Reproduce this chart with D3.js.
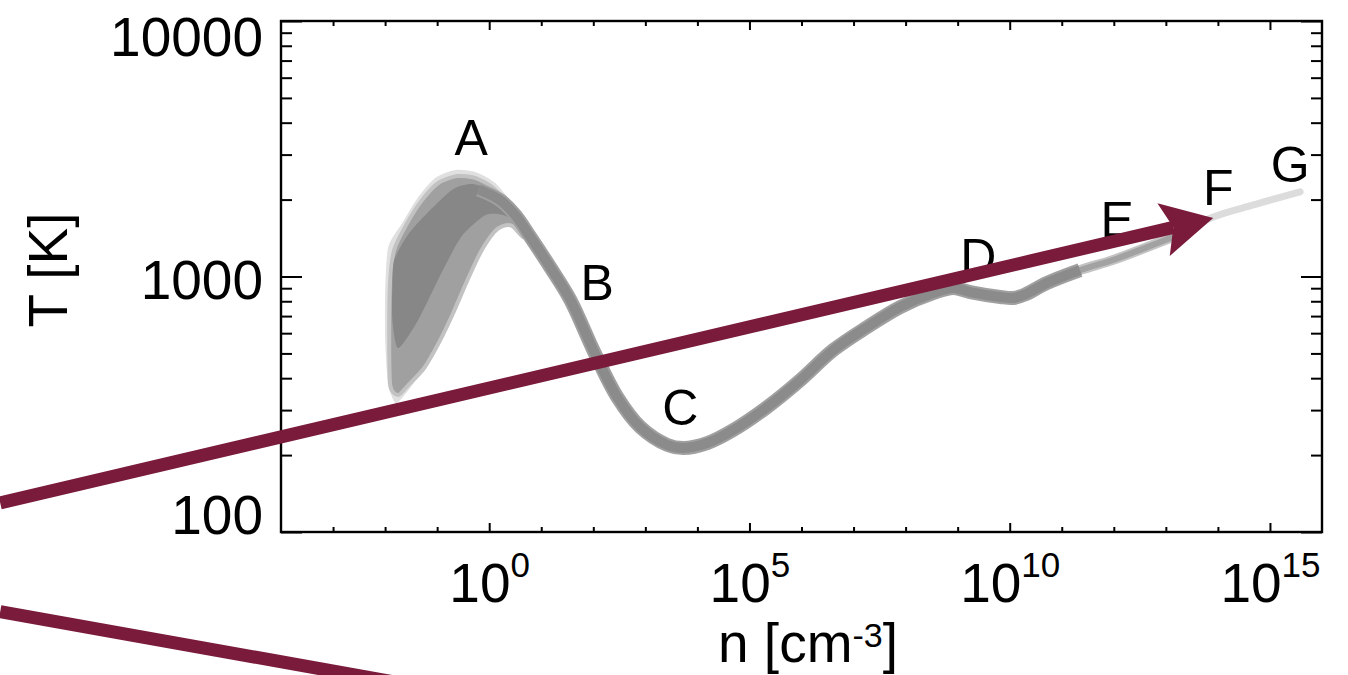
<!DOCTYPE html>
<html>
<head>
<meta charset="utf-8">
<script src="https://cdn.jsdelivr.net/npm/d3@7"></script>
<style>
body { margin: 0; background: #fff; }
svg { display: block; }
text { font-family: "Liberation Sans", Arial, Helvetica, sans-serif; fill: #000; }
</style>
</head>
<body>
<svg width="1348" height="675"></svg>
<script>
// values are log10(n [cm^-3]) and log10(T [K])

// main track (dark grey)
var mainLogN = [-0.20, 0.20, 0.50, 0.79, 1.17, 1.56, 2.00, 2.46, 2.90, 3.42, 3.73, 4.19, 4.69, 5.34, 5.98, 6.61, 7.26, 7.90, 8.53, 8.92, 9.24, 9.82, 10.07, 10.30, 10.72, 11.35];
var mainLogT = [3.340, 3.300, 3.241, 3.155, 3.037, 2.908, 2.712, 2.528, 2.411, 2.341, 2.329, 2.348, 2.399, 2.489, 2.595, 2.712, 2.802, 2.881, 2.935, 2.955, 2.939, 2.920, 2.916, 2.930, 2.975, 3.025];

// E region (medium grey)
var midLogN = [10.72, 11.35, 11.99, 12.64, 13.14];
var midLogT = [2.975, 3.025, 3.065, 3.115, 3.155];

// F-G tail (light grey)
var tailLogN = [13.14, 13.91, 14.68, 15.58];
var tailLogT = [3.155, 3.233, 3.280, 3.331];

// spread of tracks around A (outer / middle / core envelopes)
var fanOuter = [[-1.806, 2.505], [-1.940, 2.575], [-1.998, 2.751], [-1.998, 2.947], [-1.940, 3.115], [-1.671, 3.209],
  [-1.364, 3.311], [-1.037, 3.386], [-0.653, 3.417], [-0.269, 3.409], [0.115, 3.366], [0.500, 3.272], [0.826, 3.170],
  [0.860, 3.150], [0.710, 3.150], [0.500, 3.205], [0.307, 3.213], [0.115, 3.194], [-0.134, 3.115], [-0.403, 2.998],
  [-0.653, 2.881], [-0.903, 2.763], [-1.230, 2.646], [-1.518, 2.564], [-1.710, 2.517]];
var fanMid = [[-1.902, 2.575], [-1.921, 2.791], [-1.902, 2.986], [-1.825, 3.104], [-1.595, 3.202], [-1.306, 3.295],
  [-0.980, 3.366], [-0.615, 3.393], [-0.269, 3.386], [0.077, 3.346], [0.442, 3.260], [0.750, 3.165], [0.650, 3.155],
  [0.442, 3.198], [0.269, 3.198], [0.096, 3.174], [-0.173, 3.092], [-0.442, 2.975], [-0.692, 2.857], [-0.941, 2.751],
  [-1.249, 2.642], [-1.556, 2.575], [-1.748, 2.536]];
var fanCore = [[-1.825, 3.065], [-1.556, 3.165], [-1.230, 3.240], [-0.711, 3.340], [-0.327, 3.362], [0.115, 3.330],
  [0.500, 3.250], [0.560, 3.215], [0.250, 3.242], [-0.077, 3.240], [-0.519, 3.160], [-0.903, 3.020], [-1.364, 2.830],
  [-1.748, 2.720], [-1.860, 2.830], [-1.860, 2.967]];

// phase labels
var labelText = ['A', 'B', 'C', 'D', 'E', 'F', 'G'];
var labelLogN = [-0.346, 2.075, 3.670, 9.395, 12.065, 14.006, 15.389];
var labelLogT = [3.476, 2.908, 2.419, 3.010, 3.155, 3.280, 3.370];

// overlay arrows [logN, logT]
var arrowUpper = [[-9.395, 2.114], [13.910, 3.229]];
var arrowLower = [[-9.395, 1.688], [-0.749, 1.374]];

// ticks
var yMajor = [100, 1000, 10000];
var yMinor = [200, 300, 400, 500, 600, 700, 800, 900, 2000, 3000, 4000, 5000, 6000, 7000, 8000, 9000];
var xMajorExp = [0, 5, 10, 15];
var xMinorExp = [-3, -2, -1, 1, 2, 3, 4, 6, 7, 8, 9, 11, 12, 13, 14];

var svg = d3.select('svg');
var plotL = 281, plotR = 1322, plotT = 21, plotB = 532;

var x = d3.scaleLog().domain([1e-4, 1e16]).range([plotL, plotR]);
var y = d3.scaleLog().domain([100, 10000]).range([plotB, plotT]);

var px = function(d) { return x(Math.pow(10, d[0])); };
var py = function(d) { return y(Math.pow(10, d[1])); };

var zip = function(a, b) { return a.map(function(v, i) { return [v, b[i]]; }); };

// ---- fan of tracks
var blobLine = d3.line().x(px).y(py).curve(d3.curveCardinalClosed.tension(0.3));
var g = svg.append('g');
g.append('path').attr('d', blobLine(fanOuter)).attr('fill', '#e0e0e0');
g.append('path').attr('d', blobLine(fanMid)).attr('fill', '#a0a0a0')
  .attr('stroke', '#c2c2c2').attr('stroke-width', 4).attr('stroke-linejoin', 'round');
g.append('path').attr('d', blobLine(fanCore)).attr('fill', '#878787');

// ---- main track
var trackLine = d3.line().x(px).y(py).curve(d3.curveCatmullRom);
g.append('path').attr('d', trackLine(zip(tailLogN, tailLogT)))
  .attr('fill', 'none').attr('stroke', '#dcdcdc').attr('stroke-width', 7).attr('stroke-linecap', 'round');
g.append('path').attr('d', trackLine(zip(midLogN, midLogT)))
  .attr('fill', 'none').attr('stroke', '#c4c4c4').attr('stroke-width', 10).attr('stroke-linecap', 'round');
g.append('path').attr('d', trackLine(zip(midLogN, midLogT)))
  .attr('fill', 'none').attr('stroke', '#a2a2a2').attr('stroke-width', 6).attr('stroke-linecap', 'round');
g.append('path').attr('d', trackLine(zip(mainLogN, mainLogT)))
  .attr('fill', 'none').attr('stroke', '#a0a0a0').attr('stroke-width', 14).attr('stroke-linecap', 'butt');
g.append('path').attr('d', trackLine(zip(mainLogN, mainLogT)))
  .attr('fill', 'none').attr('stroke', '#8b8b8b').attr('stroke-width', 10).attr('stroke-linecap', 'butt');

// ---- axes
var axes = svg.append('g').attr('class', 'axes');

function addAxis(axis, tx, ty) {
  var a = axes.append('g').attr('transform', 'translate(' + tx + ',' + ty + ')').call(axis);
  a.select('.domain').remove();
  a.selectAll('line').attr('stroke', '#000').attr('stroke-width', 2);
  return a;
}

var pow10 = function(e) { return Math.pow(10, e); };

addAxis(d3.axisLeft(y).tickValues(yMinor).tickSize(-11).tickFormat(''), plotL, 0);
addAxis(d3.axisRight(y).tickValues(yMinor).tickSize(-11).tickFormat(''), plotR, 0);
addAxis(d3.axisRight(y).tickValues(yMajor).tickSize(-21).tickFormat(''), plotR, 0);
var yAx = addAxis(d3.axisLeft(y).tickValues(yMajor).tickSize(-21).tickPadding(18).tickFormat(d3.format('d')), plotL, 0);
var yShift = {100: 1, 1000: 22, 10000: 34};
yAx.selectAll('text')
  .attr('dy', null)
  .attr('y', function(d) { return yShift[d]; })
  .attr('fill', '#000')
  .style('font-size', '55px')
  .style('font-family', '"Liberation Sans", Arial, Helvetica, sans-serif');

addAxis(d3.axisBottom(x).tickValues(xMinorExp.map(pow10)).tickSize(-5).tickFormat(''), 0, plotB);
addAxis(d3.axisTop(x).tickValues(xMinorExp.map(pow10)).tickSize(-5).tickFormat(''), 0, plotT);
addAxis(d3.axisTop(x).tickValues(xMajorExp.map(pow10)).tickSize(-9).tickFormat(''), 0, plotT);
var xAx = addAxis(d3.axisBottom(x).tickValues(xMajorExp.map(pow10)).tickSize(-9).tickFormat(''), 0, plotB);
xAx.selectAll('.tick text').remove();
xAx.selectAll('.tick').append('text')
  .attr('y', 70)
  .attr('text-anchor', 'middle')
  .style('font-size', '55px')
  .each(function(d) {
    var t = d3.select(this);
    t.append('tspan').text('10');
    t.append('tspan').attr('dy', -25).style('font-size', '35px').text(Math.round(Math.log10(d)));
  });

// frame
axes.append('rect')
  .attr('x', plotL).attr('y', plotT)
  .attr('width', plotR - plotL).attr('height', plotB - plotT)
  .attr('fill', 'none').attr('stroke', '#000').attr('stroke-width', 2.4);

// axis titles
var xt = svg.append('text')
  .attr('x', 808).attr('y', 662)
  .attr('text-anchor', 'middle')
  .style('font-size', '55px');
xt.append('tspan').text('n [cm');
xt.append('tspan').attr('dy', -15).style('font-size', '34px').text('-3');
xt.append('tspan').attr('dy', 15).text(']');

svg.append('text')
  .attr('transform', 'translate(67,270) rotate(-90)')
  .attr('text-anchor', 'middle')
  .style('font-size', '55px')
  .text('T [K]');

// ---- phase labels
svg.append('g').selectAll('text')
  .data(zip(labelLogN, labelLogT))
  .enter().append('text')
  .attr('x', px).attr('y', py)
  .attr('text-anchor', 'middle')
  .style('font-size', '50px')
  .text(function(d, i) { return labelText[i]; });

// ---- arrows on top
var maroon = '#7a1b3b';
function drawArrow(pts, head) {
  var x0 = px(pts[0]), y0 = py(pts[0]), x1 = px(pts[1]), y1 = py(pts[1]);
  var ang = Math.atan2(y1 - y0, x1 - x0);
  var c = Math.cos(ang), s = Math.sin(ang);
  var at = function(u, v) { return [x1 + u * c - v * s, y1 + u * s + v * c]; };
  var end = head ? at(-41, 0) : [x1, y1];
  svg.append('line')
    .attr('x1', x0).attr('y1', y0).attr('x2', end[0]).attr('y2', end[1])
    .attr('stroke', maroon).attr('stroke-width', 13);
  if (head) {
    svg.append('polygon')
      .attr('points', [at(0, 0), at(-51, -27), at(-41, 0), at(-51, 27)].map(function(p) { return p.join(','); }).join(' '))
      .attr('fill', maroon);
  }
}
drawArrow(arrowUpper, true);
drawArrow(arrowLower, false);
</script>
</body>
</html>
